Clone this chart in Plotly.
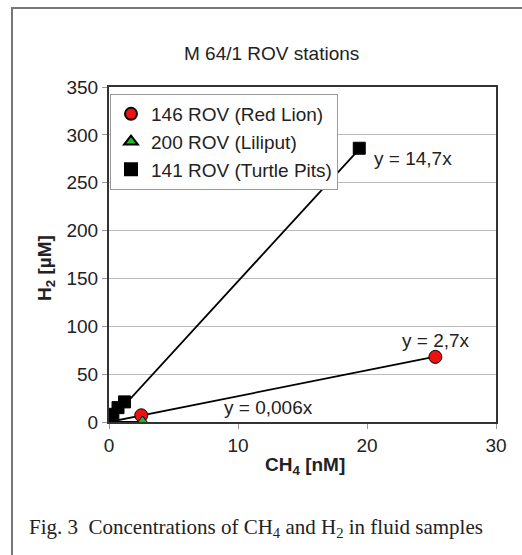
import plotly.graph_objects as go

# CH4 [nM] / H2 [µM] measurements per ROV station
red_lion_ch4 = [0.0, 2.5, 25.3]
red_lion_h2 = [0.0, 7.0, 68.0]
liliput_ch4 = [0.0, 2.6]
liliput_h2 = [0.0, 0.0]
turtle_ch4 = [0.0, 0.1, 0.3, 0.7, 1.2, 19.4]
turtle_h2 = [0.0, 4.0, 8.0, 15.0, 21.0, 286.0]

# Fitted slopes of the lines through the origin
slope_red_lion = 2.7
slope_liliput = 0.006
slope_turtle = 14.7

y_ticks = [0, 50, 100, 150, 200, 250, 300, 350]
x_ticks = [0, 10, 20, 30]

W, H = 522, 555
L, R, T, B = 109, 26, 87, 133
PW, PH = W - L - R, H - T - B


def px(xp):
    return (xp - L) / PW


def py(yp):
    return (H - B - yp) / PH


FONT = "Liberation Sans, Arial, sans-serif"
FS = 19
TXT = "#222"

fig = go.Figure()

# Trend lines through the origin
for xs, k in [(red_lion_ch4, slope_red_lion), (liliput_ch4, slope_liliput), (turtle_ch4, slope_turtle)]:
    xm = max(xs)
    fig.add_trace(go.Scatter(x=[0, xm], y=[0, k * xm], mode="lines",
                             line=dict(color="black", width=1.8),
                             showlegend=False, hoverinfo="skip"))

fig.add_trace(go.Scatter(x=red_lion_ch4, y=red_lion_h2, mode="markers", name="146 ROV (Red Lion)",
                         marker=dict(symbol="circle", size=13, color="#ee1111",
                                     line=dict(color="black", width=1))))
fig.add_trace(go.Scatter(x=liliput_ch4, y=liliput_h2, mode="markers", name="200 ROV (Liliput)",
                         marker=dict(symbol="triangle-up", size=12, color="#22bb22",
                                     line=dict(color="black", width=1))))
fig.add_trace(go.Scatter(x=turtle_ch4, y=turtle_h2, mode="markers", name="141 ROV (Turtle Pits)",
                         marker=dict(symbol="square", size=12, color="black",
                                     line=dict(color="black", width=1))))

labels = [
    (f"y = {str(slope_turtle).replace('.', ',')}x", 413, 158),
    (f"y = {str(slope_red_lion).replace('.', ',')}x", 436, 340),
    (f"y = {str(slope_liliput).replace('.', ',')}x", 268, 407),
]
annotations = [dict(text=t, x=px(xp), y=py(yp), xref="paper", yref="paper", showarrow=False,
                    font=dict(family=FONT, size=FS, color=TXT), xanchor="center", yanchor="middle")
               for t, xp, yp in labels]

annotations += [
    dict(text="M 64/1 ROV stations", x=px(271), y=py(53), xref="paper", yref="paper", showarrow=False,
         font=dict(family=FONT, size=FS, color=TXT), xanchor="center", yanchor="middle"),
    dict(text="<b>CH<sub>4</sub> [nM]</b>", x=px(305), y=py(466), xref="paper", yref="paper",
         showarrow=False, font=dict(family=FONT, size=FS, color=TXT),
         xanchor="center", yanchor="middle"),
    dict(text="<b>H<sub>2</sub> [µM]</b>", x=px(46), y=py(268), xref="paper", yref="paper",
         showarrow=False, textangle=-90, font=dict(family=FONT, size=FS, color=TXT),
         xanchor="center", yanchor="middle"),
    dict(text="Fig. 3  Concentrations of CH<sub>4</sub> and H<sub>2</sub> in fluid samples",
         x=px(27), y=py(528), xref="paper", yref="paper", showarrow=False,
         font=dict(family="Liberation Serif, Times New Roman, serif", size=21, color=TXT),
         xanchor="left", yanchor="middle"),
]

shapes = [
    # outer frame
    dict(type="rect", xref="paper", yref="paper", x0=px(12), x1=px(540), y0=py(580), y1=py(8),
         line=dict(color="#777", width=2), layer="below"),
]

fig.update_layout(
    width=W, height=H,
    margin=dict(l=L, r=R, t=T, b=B),
    paper_bgcolor="white", plot_bgcolor="white",
    font=dict(family=FONT, size=FS, color=TXT),
    showlegend=True,
    legend=dict(x=px(110), y=py(94), xanchor="left", yanchor="top",
                bgcolor="white", bordercolor="#999", borderwidth=1,
                font=dict(family=FONT, size=FS, color=TXT),
                itemsizing="constant", itemwidth=30, tracegroupgap=0),
    annotations=annotations,
    shapes=shapes,
)
fig.update_xaxes(range=[0, 30], tickvals=x_ticks, showgrid=False, zeroline=False,
                 showline=True, linecolor="#333", linewidth=2, mirror=True,
                 ticks="outside", ticklen=5, tickcolor="#999",
                 tickfont=dict(family=FONT, size=FS, color=TXT))
fig.update_yaxes(range=[0, 350], tickvals=y_ticks, showgrid=True, gridcolor="#bbb", gridwidth=1,
                 zeroline=False, showline=True, linecolor="#333", linewidth=2, mirror=True,
                 ticks="outside", ticklen=5, tickcolor="#999",
                 tickfont=dict(family=FONT, size=FS, color=TXT))

fig.write_html("out.html")
